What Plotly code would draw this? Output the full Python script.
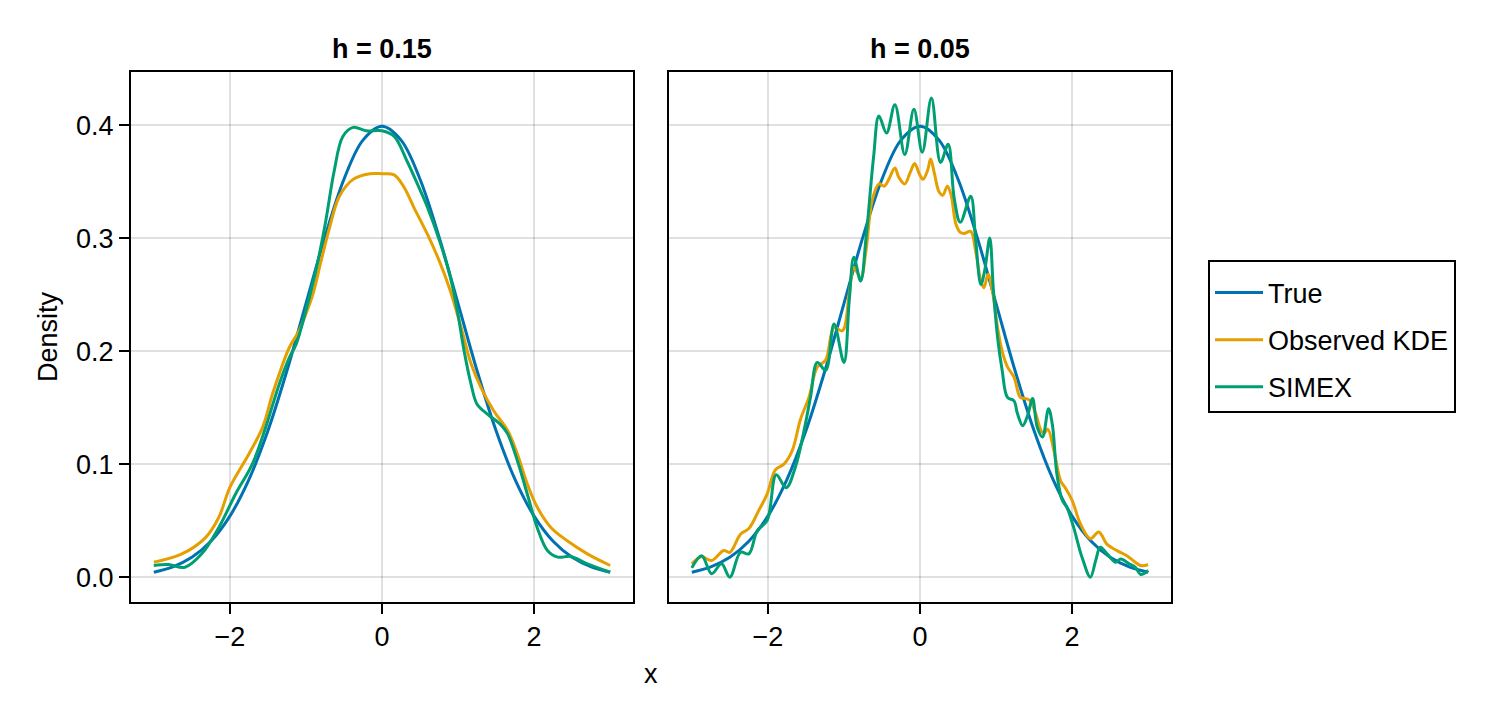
import plotly.graph_objects as go

# ---------------- data ----------------
true_x = [-3.0, -2.75, -2.5, -2.25, -2.0, -1.75, -1.5, -1.25, -1.0, -0.75, -0.5, -0.25, 0.0,
          0.25, 0.5, 0.75, 1.0, 1.25, 1.5, 1.75, 2.0, 2.25, 2.5, 2.75, 3.0]
true_y = [0.0044, 0.0091, 0.0175, 0.0317, 0.0540, 0.0863, 0.1295, 0.1826, 0.2420, 0.3011, 0.3521, 0.3867, 0.3989,
          0.3867, 0.3521, 0.3011, 0.2420, 0.1826, 0.1295, 0.0863, 0.0540, 0.0317, 0.0175, 0.0091, 0.0044]

# h = 0.15 panel
obs15_x = [-3.0, -2.63, -2.32, -2.145, -2.0, -1.75, -1.57, -1.44, -1.35, -1.22, -1.09, -1.0, -0.91,
           -0.80, -0.69, -0.56, -0.38, -0.16, 0.0, 0.16, 0.29, 0.42, 0.60, 0.77, 0.90, 1.04, 1.17,
           1.30, 1.47, 1.65, 1.78, 1.91, 2.04, 2.22, 2.44, 2.70, 3.0]
obs15_y = [0.0133, 0.0206, 0.035, 0.053, 0.0795, 0.109, 0.1325, 0.162, 0.180, 0.203, 0.218, 0.233, 0.250,
           0.280, 0.309, 0.337, 0.352, 0.357, 0.357, 0.356, 0.345, 0.327, 0.303, 0.277, 0.253, 0.221, 0.189,
           0.168, 0.147, 0.130, 0.109, 0.0825, 0.062, 0.044, 0.032, 0.0206, 0.0103]

simex15_x = [-3.0, -2.81, -2.59, -2.37, -2.145, -1.925, -1.705, -1.53, -1.35, -1.22, -1.13, -1.0, -0.87,
             -0.74, -0.63, -0.515, -0.38, -0.21, 0.0, 0.16, 0.33, 0.465, 0.60, 0.77, 0.90, 0.99, 1.08,
             1.17, 1.25, 1.39, 1.56, 1.65, 1.78, 1.91, 2.04, 2.175, 2.31, 2.48, 2.70, 3.0]
simex15_y = [0.0103, 0.0112, 0.0088, 0.0206, 0.044, 0.0736, 0.100, 0.1325, 0.171, 0.194, 0.206, 0.236, 0.271,
             0.315, 0.359, 0.390, 0.398, 0.395, 0.395, 0.390, 0.368, 0.348, 0.327, 0.295, 0.265, 0.236, 0.200,
             0.171, 0.153, 0.144, 0.135, 0.127, 0.103, 0.0736, 0.044, 0.0236, 0.0177, 0.0183, 0.0118, 0.0044]

# h = 0.05 panel
obs05_x = [-3.0, -2.87, -2.74, -2.58, -2.50, -2.36, -2.25, -2.12, -2.01, -1.90, -1.79, -1.68, -1.57,
           -1.46, -1.35, -1.24, -1.13, -1.02, -0.93, -0.87, -0.78, -0.71, -0.63, -0.54, -0.47, -0.41,
           -0.33, -0.28, -0.20, -0.13, -0.07, -0.01, 0.04, 0.10, 0.14, 0.19, 0.25, 0.30, 0.36, 0.41,
           0.47, 0.53, 0.58, 0.667, 0.73, 0.80, 0.84, 0.895, 0.95, 1.02, 1.08, 1.15, 1.236, 1.32, 1.39,
           1.45, 1.52, 1.59, 1.63, 1.68, 1.76, 1.85, 1.91, 2.0, 2.11, 2.24, 2.35, 2.46, 2.59, 2.72,
           2.83, 2.90, 3.0]
obs05_y = [0.0118, 0.018, 0.0147, 0.0235, 0.022, 0.038, 0.043, 0.059, 0.0735, 0.095, 0.100, 0.112, 0.140,
           0.159, 0.186, 0.192, 0.221, 0.218, 0.251, 0.274, 0.265, 0.289, 0.333, 0.348, 0.346, 0.352,
           0.362, 0.354, 0.348, 0.358, 0.366, 0.357, 0.352, 0.360, 0.370, 0.357, 0.341, 0.338, 0.346, 0.338,
           0.313, 0.305, 0.304, 0.306, 0.289, 0.262, 0.256, 0.268, 0.254, 0.221, 0.200, 0.186, 0.177, 0.159, 0.158,
           0.156, 0.145, 0.130, 0.127, 0.131, 0.112, 0.085, 0.079, 0.068, 0.047, 0.034, 0.040, 0.029, 0.0235, 0.019,
           0.0132, 0.0103, 0.011]

simex05_x = [-3.0, -2.87, -2.74, -2.61, -2.50, -2.36, -2.25, -2.14, -2.01, -1.89, -1.76, -1.64, -1.53,
             -1.44, -1.35, -1.24, -1.13, -1.0, -0.93, -0.87, -0.78, -0.71, -0.61, -0.54, -0.44, -0.33,
             -0.20, -0.08, 0.03, 0.15, 0.27, 0.37, 0.45, 0.53, 0.667, 0.73, 0.80, 0.85, 0.917, 0.965,
             1.02, 1.08, 1.15, 1.236, 1.28, 1.35, 1.41, 1.48, 1.54, 1.61, 1.69, 1.74, 1.80, 1.87, 1.93,
             2.02, 2.13, 2.24, 2.31, 2.37, 2.46, 2.57, 2.64, 2.75, 2.83, 2.90, 3.0]
simex05_y = [0.0082, 0.019, 0.003, 0.0118, 0.0, 0.022, 0.0206, 0.041, 0.050, 0.0906, 0.079, 0.097, 0.128,
             0.159, 0.190, 0.183, 0.224, 0.190, 0.245, 0.283, 0.262, 0.300, 0.372, 0.408, 0.393, 0.418,
             0.374, 0.414, 0.376, 0.424, 0.367, 0.383, 0.335, 0.314, 0.337, 0.300, 0.259, 0.271, 0.300, 0.254,
             0.212, 0.183, 0.159, 0.156, 0.145, 0.134, 0.142, 0.158, 0.133, 0.124, 0.149, 0.135, 0.091, 0.068, 0.062,
             0.044, 0.0176, 0.0, 0.0147, 0.0265, 0.0206, 0.0132, 0.016, 0.0118, 0.0088, 0.0024, 0.0059]

series_names = ["True", "Observed KDE", "SIMEX"]
panel_titles = ["h = 0.15", "h = 0.05"]
x_ticks = [-2, 0, 2]
y_ticks = [0.0, 0.1, 0.2, 0.3, 0.4]

# ---------------- styling ----------------
W, H = 1500, 720
COLORS = ["#0072B2", "#E69F00", "#009E73"]
FONT = "Liberation Sans, Arial, sans-serif"
FS = 27
GRID = "rgba(0,0,0,0.12)"


def fx(p):
    return p / W


def fy(p):
    return 1 - p / H


fig = go.Figure()

panels = [
    [(true_x, true_y), (obs15_x, obs15_y), (simex15_x, simex15_y)],
    [(true_x, true_y), (obs05_x, obs05_y), (simex05_x, simex05_y)],
]
for pi, panel in enumerate(panels):
    for si, (xs, ys) in enumerate(panel):
        fig.add_trace(go.Scatter(
            x=xs, y=ys, mode="lines", name=series_names[si],
            line=dict(color=COLORS[si], width=3, shape="spline", smoothing=1.0),
            xaxis="x" if pi == 0 else "x2", yaxis="y" if pi == 0 else "y2",
            showlegend=(pi == 0), legendgroup=series_names[si],
        ))

common_x = dict(range=[-3.3, 3.3], tickvals=x_ticks, ticks="outside", ticklen=10, tickwidth=2,
                tickcolor="black", showline=True, mirror=True, linecolor="black", linewidth=2,
                showgrid=True, gridcolor=GRID, gridwidth=2, zeroline=False,
                tickfont=dict(family=FONT, size=FS, color="black"))
common_y = dict(range=[-0.022, 0.447], tickvals=y_ticks, tickformat=".1f", showline=True, mirror=True,
                linecolor="black", linewidth=2, showgrid=True, gridcolor=GRID, gridwidth=2,
                zeroline=False, domain=[fy(602), fy(72)],
                tickfont=dict(family=FONT, size=FS, color="black"))

fig.update_layout(
    width=W, height=H, margin=dict(l=0, r=0, t=0, b=0),
    paper_bgcolor="white", plot_bgcolor="white",
    font=dict(family=FONT, size=FS, color="black"),
    xaxis=dict(domain=[fx(131), fx(633)], anchor="y", **common_x),
    xaxis2=dict(domain=[fx(669), fx(1171)], anchor="y2", **common_x),
    yaxis=dict(anchor="x", ticks="outside", ticklen=10, tickwidth=2, tickcolor="black", **common_y),
    yaxis2=dict(anchor="x2", ticks="", showticklabels=False, matches="y", **common_y),
    legend=dict(x=fx(1208), y=fy(260), xanchor="left", yanchor="top",
                bordercolor="black", borderwidth=2, bgcolor="white",
                font=dict(family=FONT, size=FS, color="black"), tracegroupgap=9,
                itemwidth=48,
                title=dict(text=" ", font=dict(size=5))),
    showlegend=True,
)

annotations = [
    dict(text="<b>" + panel_titles[0] + "</b>", x=fx(382), y=fy(49), xref="paper", yref="paper",
         showarrow=False, xanchor="center", yanchor="middle", font=dict(family=FONT, size=FS)),
    dict(text="<b>" + panel_titles[1] + "</b>", x=fx(920), y=fy(49), xref="paper", yref="paper",
         showarrow=False, xanchor="center", yanchor="middle", font=dict(family=FONT, size=FS)),
    dict(text="x", x=fx(651), y=fy(674), xref="paper", yref="paper", showarrow=False,
         xanchor="center", yanchor="middle", font=dict(family=FONT, size=FS)),
    dict(text="Density", x=fx(48), y=fy(337), xref="paper", yref="paper", showarrow=False,
         xanchor="center", yanchor="middle", textangle=-90, font=dict(family=FONT, size=FS)),
]
fig.update_layout(annotations=annotations)

fig.write_html("out.html")
